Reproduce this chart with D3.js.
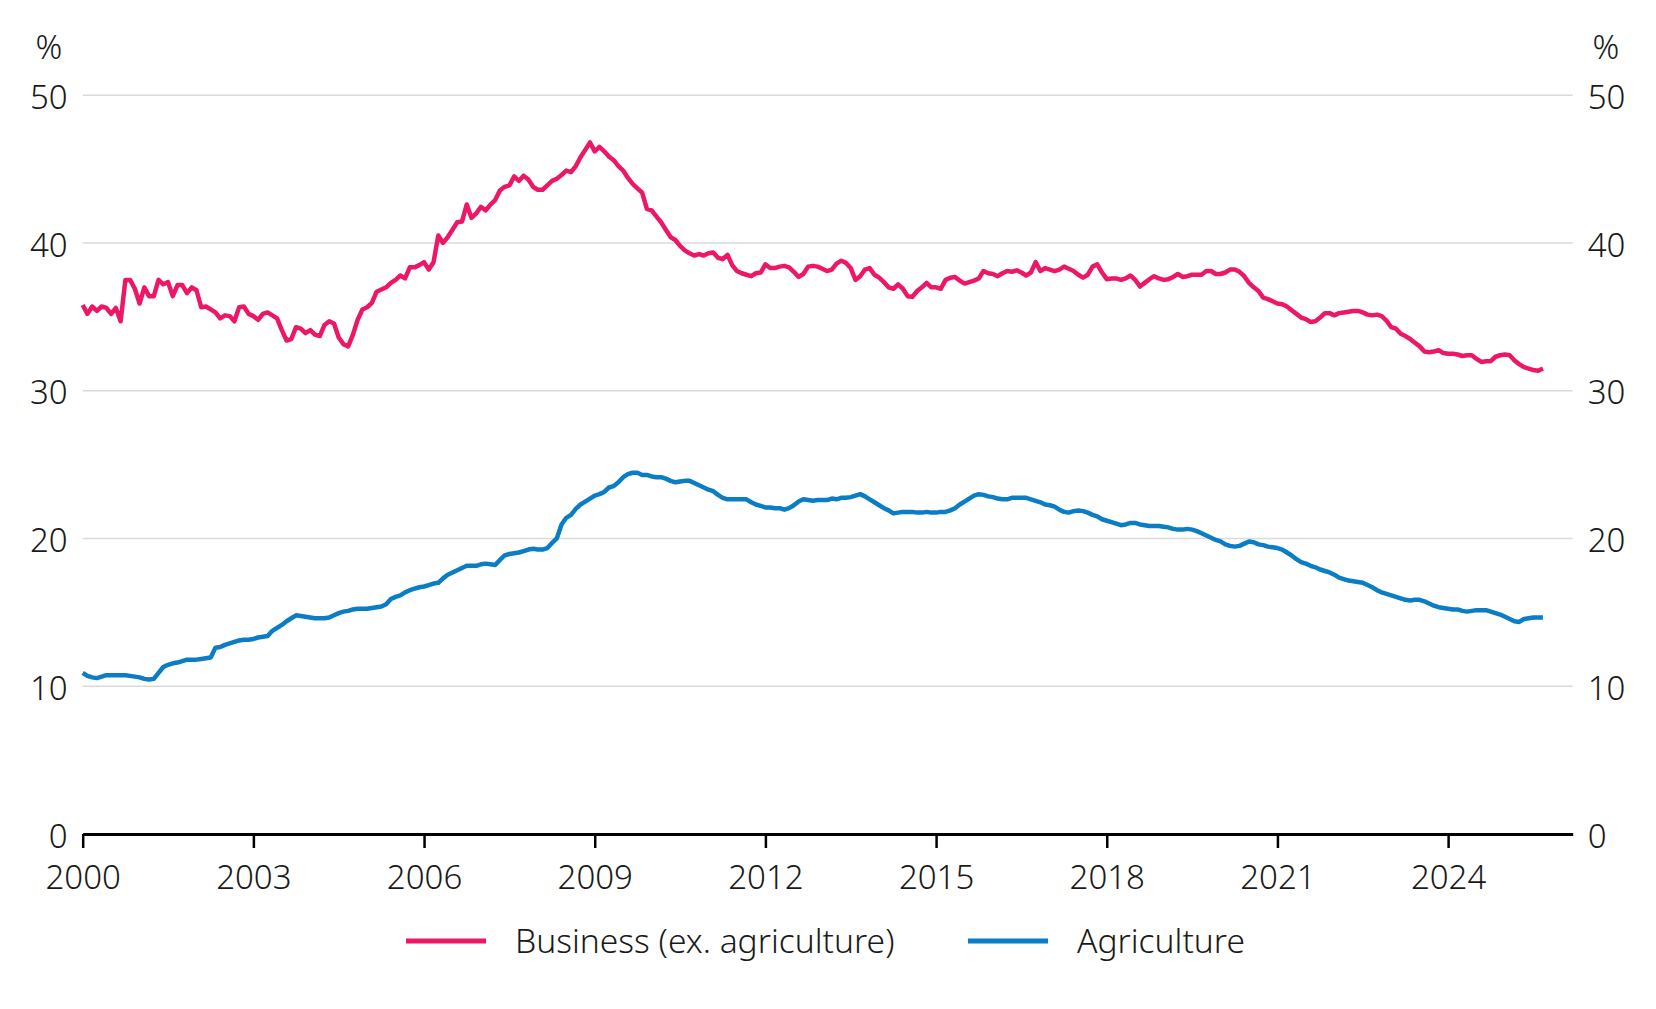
<!DOCTYPE html>
<html>
<head>
<meta charset="utf-8">
<script src="https://cdn.jsdelivr.net/npm/d3@7"></script>
<style>
	html, body { margin: 0; padding: 0; background: #fff; }
	.plot { width: 1656px; height: 1009px; }
	text { font-family: 'Noto Sans', 'Open Sans', sans-serif; font-weight: 300; fill: #1a1a1a; }
</style>
</head>
<body>
<div class="plot" id="plot-1"></div>
<script>
//Data: monthly shares (%), starting Jan 2000
const startYear = 2000;
const seriesNames = ['Business (ex. agriculture)', 'Agriculture'];
const seriesColors = ['#ec1766', '#0a7dc5'];

const business = [
	35.8, 35.2, 35.7, 35.4, 35.7, 35.6, 35.2, 35.6, 34.7, 37.5, 37.5, 36.9, //2000
	35.9, 37.0, 36.4, 36.4, 37.5, 37.2, 37.35, 36.4, 37.15, 37.15, 36.6, 37.0, //2001
	36.8, 35.65, 35.7, 35.5, 35.3, 34.9, 35.1, 35.05, 34.7, 35.65, 35.7, 35.2, //2002
	35.05, 34.8, 35.2, 35.3, 35.1, 34.9, 34.1, 33.4, 33.5, 34.3, 34.2, 33.9, //2003
	34.1, 33.8, 33.7, 34.45, 34.7, 34.55, 33.6, 33.15, 33.0, 33.8, 34.8, 35.5, //2004
	35.65, 35.95, 36.7, 36.85, 37.0, 37.3, 37.5, 37.8, 37.6, 38.35, 38.35, 38.5, //2005
	38.7, 38.2, 38.7, 40.5, 40.0, 40.4, 40.9, 41.4, 41.45, 42.6, 41.7, 42.0, //2006
	42.45, 42.2, 42.6, 42.9, 43.55, 43.8, 43.9, 44.5, 44.2, 44.55, 44.3, 43.8, //2007
	43.6, 43.6, 43.9, 44.2, 44.35, 44.6, 44.9, 44.8, 45.2, 45.8, 46.3, 46.8, //2008
	46.2, 46.5, 46.2, 45.85, 45.6, 45.2, 44.9, 44.4, 44.0, 43.7, 43.4, 42.3, //2009
	42.2, 41.8, 41.4, 40.9, 40.4, 40.2, 39.8, 39.5, 39.3, 39.15, 39.25, 39.15, //2010
	39.3, 39.35, 39.0, 38.9, 39.2, 38.5, 38.1, 37.95, 37.85, 37.75, 37.95, 38.0, //2011
	38.55, 38.3, 38.3, 38.4, 38.45, 38.35, 38.05, 37.7, 37.9, 38.4, 38.45, 38.4, //2012
	38.25, 38.1, 38.2, 38.6, 38.8, 38.65, 38.3, 37.5, 37.75, 38.2, 38.3, 37.85, //2013
	37.65, 37.35, 37.0, 36.9, 37.2, 36.9, 36.4, 36.35, 36.75, 37.0, 37.3, 37.0, //2014
	37.0, 36.9, 37.5, 37.65, 37.7, 37.45, 37.25, 37.35, 37.45, 37.6, 38.1, 37.95, //2015
	37.9, 37.75, 37.95, 38.1, 38.05, 38.15, 38.0, 37.8, 38.0, 38.7, 38.1, 38.3, //2016
	38.2, 38.1, 38.2, 38.4, 38.25, 38.1, 37.85, 37.65, 37.85, 38.4, 38.55, 38.0, //2017
	37.55, 37.6, 37.6, 37.5, 37.6, 37.8, 37.5, 37.05, 37.3, 37.55, 37.75, 37.6, //2018
	37.5, 37.55, 37.7, 37.9, 37.7, 37.75, 37.85, 37.85, 37.85, 38.1, 38.1, 37.9, //2019
	37.9, 38.0, 38.2, 38.2, 38.05, 37.75, 37.3, 37.0, 36.75, 36.3, 36.2, 36.05, //2020
	35.9, 35.85, 35.7, 35.45, 35.2, 34.95, 34.85, 34.65, 34.7, 34.95, 35.25, 35.25, //2021
	35.1, 35.25, 35.3, 35.35, 35.4, 35.4, 35.3, 35.15, 35.1, 35.15, 35.05, 34.75, //2022
	34.3, 34.2, 33.85, 33.7, 33.5, 33.25, 33.0, 32.65, 32.6, 32.65, 32.75, 32.55, //2023
	32.5, 32.5, 32.45, 32.35, 32.4, 32.4, 32.15, 31.95, 32.0, 32.0, 32.3, 32.4, //2024
	32.45, 32.4, 32.05, 31.8, 31.6, 31.5, 31.4, 31.35, 31.5 //2025
];

const agriculture = [
	10.9, 10.7, 10.6, 10.55, 10.65, 10.75, 10.75, 10.75, 10.75, 10.75, 10.7, 10.65, //2000
	10.6, 10.5, 10.45, 10.5, 10.9, 11.3, 11.45, 11.55, 11.6, 11.7, 11.8, 11.8, //2001
	11.8, 11.85, 11.9, 11.95, 12.6, 12.65, 12.8, 12.9, 13.0, 13.1, 13.15, 13.15, //2002
	13.2, 13.3, 13.35, 13.4, 13.75, 13.95, 14.15, 14.4, 14.6, 14.8, 14.75, 14.7, //2003
	14.65, 14.6, 14.6, 14.6, 14.65, 14.8, 14.95, 15.05, 15.1, 15.2, 15.25, 15.25, //2004
	15.25, 15.3, 15.35, 15.4, 15.55, 15.9, 16.05, 16.15, 16.35, 16.5, 16.6, 16.7, //2005
	16.75, 16.85, 16.95, 17.0, 17.3, 17.55, 17.7, 17.85, 18.0, 18.15, 18.15, 18.15, //2006
	18.25, 18.3, 18.25, 18.2, 18.55, 18.85, 18.95, 19.0, 19.05, 19.15, 19.25, 19.3, //2007
	19.25, 19.25, 19.35, 19.7, 20.0, 20.95, 21.4, 21.6, 22.0, 22.3, 22.5, 22.7, //2008
	22.9, 23.0, 23.15, 23.45, 23.55, 23.8, 24.15, 24.35, 24.45, 24.45, 24.3, 24.3, //2009
	24.2, 24.15, 24.15, 24.05, 23.9, 23.8, 23.85, 23.9, 23.9, 23.75, 23.6, 23.45, //2010
	23.3, 23.2, 22.95, 22.75, 22.65, 22.65, 22.65, 22.65, 22.65, 22.45, 22.3, 22.2, //2011
	22.1, 22.1, 22.05, 22.05, 21.95, 22.05, 22.25, 22.5, 22.65, 22.6, 22.55, 22.6, //2012
	22.6, 22.6, 22.7, 22.65, 22.75, 22.75, 22.8, 22.9, 23.0, 22.85, 22.65, 22.45, //2013
	22.25, 22.05, 21.9, 21.7, 21.75, 21.8, 21.8, 21.8, 21.75, 21.75, 21.8, 21.75, //2014
	21.75, 21.8, 21.8, 21.9, 22.05, 22.3, 22.5, 22.7, 22.9, 23.0, 22.95, 22.85, //2015
	22.8, 22.7, 22.65, 22.65, 22.75, 22.75, 22.75, 22.75, 22.65, 22.55, 22.45, 22.3, //2016
	22.25, 22.15, 21.95, 21.8, 21.75, 21.85, 21.9, 21.85, 21.75, 21.6, 21.5, 21.3, //2017
	21.2, 21.1, 21.0, 20.9, 20.95, 21.05, 21.05, 20.95, 20.9, 20.85, 20.85, 20.85, //2018
	20.8, 20.75, 20.65, 20.6, 20.6, 20.65, 20.6, 20.5, 20.35, 20.2, 20.05, 19.9, //2019
	19.8, 19.6, 19.5, 19.45, 19.5, 19.65, 19.8, 19.75, 19.6, 19.55, 19.45, 19.4, //2020
	19.35, 19.25, 19.05, 18.85, 18.6, 18.4, 18.3, 18.15, 18.05, 17.9, 17.8, 17.7, //2021
	17.55, 17.35, 17.25, 17.15, 17.1, 17.05, 17.0, 16.85, 16.7, 16.5, 16.35, 16.25, //2022
	16.15, 16.05, 15.95, 15.85, 15.8, 15.85, 15.85, 15.75, 15.6, 15.45, 15.35, 15.3, //2023
	15.25, 15.2, 15.2, 15.1, 15.05, 15.1, 15.15, 15.15, 15.15, 15.05, 14.95, 14.85, //2024
	14.7, 14.55, 14.4, 14.35, 14.55, 14.6, 14.65, 14.65, 14.65 //2025
];

const yTicks = [0, 10, 20, 30, 40, 50];
const xTicks = [2000, 2003, 2006, 2009, 2012, 2015, 2018, 2021, 2024];

//Prepare DOM canvas
const w = 1656;
const h = 1009;
const svg = d3.select('#plot-1').append('svg').attr('width', w).attr('height', h);

const margin = {l: 82.7, r: 1572.7, t: 95.2, b: 834};
const fontSize = 33;

//Scales
const x = d3.scaleLinear().domain([2000, 2026.19]).range([margin.l, margin.r]);
const y = d3.scaleLinear().domain([0, 50]).range([margin.b, margin.t]);

//Gridlines
svg.append('g')
	.selectAll('line')
	.data(yTicks.filter(d => d > 0))
	.enter()
	.append('line')
	.attr('x1', margin.l)
	.attr('x2', margin.r)
	.attr('y1', d => y(d))
	.attr('y2', d => y(d))
	.style('stroke', '#dadada')
	.style('stroke-width', '1.5px');

//Y labels, both sides
const yLeft = svg.append('g').attr('transform', `translate(${margin.l}, 0)`)
	.call(d3.axisLeft(y).tickValues(yTicks).tickSize(0).tickPadding(15));
const yRight = svg.append('g').attr('transform', `translate(${margin.r}, 0)`)
	.call(d3.axisRight(y).tickValues(yTicks).tickSize(0).tickPadding(15));
[yLeft, yRight].forEach(g => {
	g.select('.domain').remove();
	g.selectAll('text')
		.attr('dy', '0.4em')
		.attr('font-family', null)
		.style('font-size', fontSize + 'px');
});

svg.append('text').attr('x', 49).attr('y', 59).attr('text-anchor', 'middle')
	.style('font-size', fontSize + 'px').text('%');
svg.append('text').attr('x', 1606).attr('y', 59).attr('text-anchor', 'middle')
	.style('font-size', fontSize + 'px').text('%');

//X axis
const xAxis = svg.append('g').attr('transform', `translate(0, ${y(0)})`)
	.call(d3.axisBottom(x).tickValues(xTicks).tickFormat(d3.format('d'))
		.tickSize(14).tickSizeOuter(0).tickPadding(18));
xAxis.select('.domain').style('stroke', '#000').style('stroke-width', '3px');
xAxis.selectAll('.tick line').style('stroke', '#000').style('stroke-width', '2.5px');
xAxis.selectAll('text').style('font-size', fontSize + 'px').attr('font-family', null);

//Lines
const line = d3.line()
	.x((d, i) => x(startYear + i / 12))
	.y(d => y(d));

svg.selectAll('.series')
	.data([business, agriculture])
	.enter()
	.append('path')
	.attr('class', 'series')
	.attr('d', d => line(d))
	.style('fill', 'none')
	.style('stroke', (d, i) => seriesColors[i])
	.style('stroke-width', '4.5px')
	.style('stroke-linejoin', 'round');

//Legend
const legendPos = [406, 968];
const legend = svg.selectAll('.legend')
	.data(seriesNames)
	.enter()
	.append('g')
	.attr('class', 'legend')
	.attr('transform', (d, i) => `translate(${legendPos[i]}, 941)`);
legend.append('line')
	.attr('x1', 0).attr('x2', 80)
	.style('stroke', (d, i) => seriesColors[i])
	.style('stroke-width', '5px');
legend.append('text')
	.attr('x', 109)
	.attr('dy', '0.35em')
	.style('font-size', '33.6px')
	.text(d => d);
</script>
</body>
</html>
